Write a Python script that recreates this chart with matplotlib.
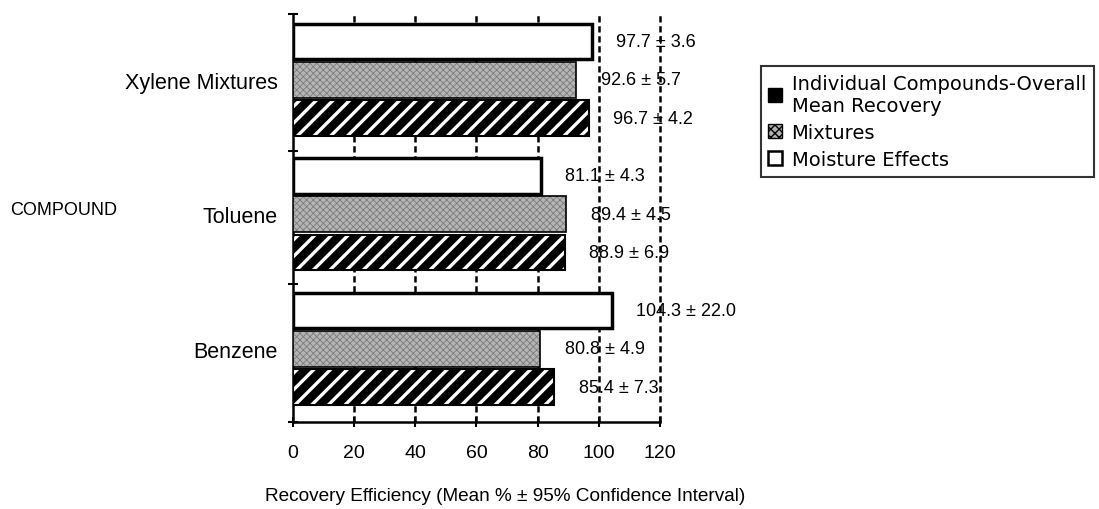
import numpy as np
import matplotlib.pyplot as plt
from matplotlib.patches import Patch

plt.rcParams['font.family'] = ['Liberation Sans', 'DejaVu Sans']

# data (top to bottom on the chart)
compounds = ["Xylene Mixtures", "Toluene", "Benzene"]
series = ["Moisture Effects", "Mixtures", "Individual Compounds-Overall\nMean Recovery"]
means = {
    "Moisture Effects": [97.7, 81.1, 104.3],
    "Mixtures": [92.6, 89.4, 80.8],
    "Individual Compounds-Overall\nMean Recovery": [96.7, 88.9, 85.4],
}
ci95 = {
    "Moisture Effects": [3.6, 4.3, 22.0],
    "Mixtures": [5.7, 4.5, 4.9],
    "Individual Compounds-Overall\nMean Recovery": [4.2, 6.9, 7.3],
}
xticks = [0, 20, 40, 60, 80, 100, 120]

# styles: fill colour, hatch colour, hatch, hatch width, outline width
styles = {
    "Moisture Effects": dict(fc="white", hc="white", hatch=None, hw=0, lw=2.5),
    "Mixtures": dict(fc="#b5b5b5", hc="#7a7a7a", hatch="xxxxx", hw=0.6, lw=1.2),
    "Individual Compounds-Overall\nMean Recovery": dict(fc="black", hc="white", hatch="//", hw=2.4, lw=1.5),
}

fig = plt.figure(figsize=(10.99, 5.10), dpi=100)
ax = fig.add_axes([0.2666, 0.1706, 0.3339, 0.8])

y = np.arange(len(compounds))
offsets = [-0.285, 0.0, 0.285]
h = 0.265

for k, s in enumerate(series):
    st = styles[s]
    pos = y + offsets[k]
    if st["hatch"]:
        with plt.rc_context({'hatch.linewidth': st["hw"]}):
            ax.barh(pos, means[s], height=h, color=st["fc"], edgecolor=st["hc"],
                    hatch=st["hatch"], linewidth=0, zorder=3)
    else:
        ax.barh(pos, means[s], height=h, color=st["fc"], linewidth=0, zorder=3)
    ax.barh(pos, means[s], height=h, fill=False, edgecolor="black",
            linewidth=st["lw"], zorder=4)
    for yy, m, c in zip(pos, means[s], ci95[s]):
        ax.text(m + 8, yy, f"{m:.1f} \u00b1 {c:.1f}", va="center", ha="left",
                fontsize=13, zorder=5)

ax.set_xlim(0, 120)
ax.set_ylim(2.545, -0.49)
ax.set_xticks(xticks)
ax.set_xticklabels([str(t) for t in xticks], fontsize=14)
ax.tick_params(axis="x", direction="inout", length=7, width=1.5, pad=12)

ax.set_yticks(y)
ax.set_yticklabels(compounds, fontsize=15.5)
ax.tick_params(axis="y", length=0, pad=11)
ax.set_yticks([-0.49, 0.53, 1.52, 2.545], minor=True)
ax.tick_params(axis="y", which="minor", direction="inout", length=7, width=1.5)

for t in xticks[1:]:
    ax.axvline(t, color="black", linestyle=(0, (2.5, 1.5)), linewidth=1.8,
               zorder=1, clip_on=False)

for side in ["top", "right"]:
    ax.spines[side].set_visible(False)
ax.spines["left"].set_linewidth(1.8)
ax.spines["bottom"].set_linewidth(1.8)

handles = [
    Patch(facecolor="black", edgecolor="black", label=series[2]),
    Patch(facecolor="#b0b0b0", edgecolor="black", hatch="xxxx", label=series[1]),
    Patch(facecolor="white", edgecolor="black", linewidth=1.8, label=series[0]),
]
leg = fig.legend(handles=handles, loc="upper left", bbox_to_anchor=(0.692, 0.869),
                 prop={"family": "DejaVu Sans", "size": 14}, frameon=True,
                 fancybox=False, edgecolor="black",
                 handlelength=0.7, handleheight=0.7, handletextpad=0.5,
                 labelspacing=0.42, borderpad=0.4, borderaxespad=0)
leg.get_frame().set_linewidth(1.5)

fig.text(0.009, 0.588, "COMPOUND", fontsize=13, ha="left", va="center")
fig.text(0.4595, 0.0255, "Recovery Efficiency (Mean % \u00b1 95% Confidence Interval)",
         fontsize=13.7, ha="center", va="center")

fig.savefig("out.png", dpi=100)
